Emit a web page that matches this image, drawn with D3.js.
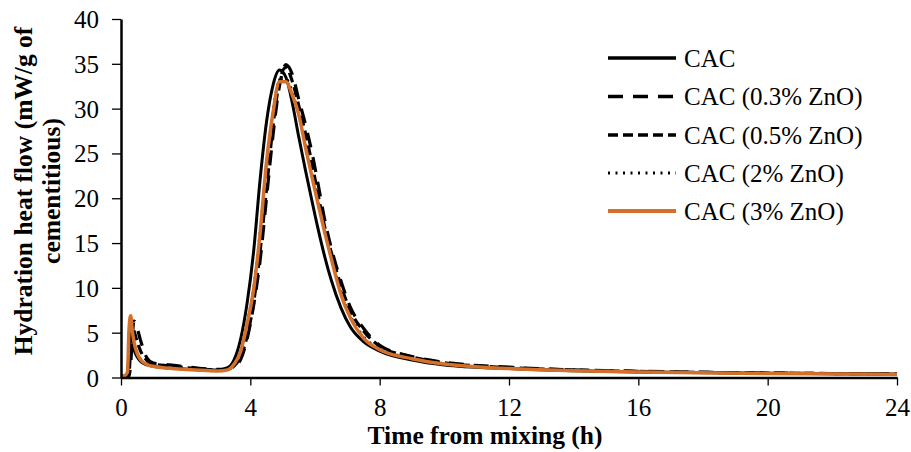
<!DOCTYPE html>
<html><head><meta charset="utf-8">
<script src="https://cdn.jsdelivr.net/npm/d3@7"></script>
<style>
body{margin:0;background:#fff;}
svg{display:block;font-family:"Liberation Serif","Times New Roman",serif;}
</style></head>
<body>
<svg id="chart" width="911" height="452"></svg>
<script>
// time (h)
const times = [0,0.1,0.2,0.25,0.3,0.35,0.4,0.5,0.6,0.8,1,1.5,2,2.5,3,3.3,3.5,3.7,3.9,4.1,4.3,4.5,4.7,4.9,5.1,5.3,5.5,5.7,5.9,6.1,6.3,6.5,6.8,7.1,7.5,8,9,10,12,14,16,20,24];
// heat flow (mW/g)
const cac     = [0,0,0.5,3,5,4.2,3.2,2.3,1.8,1.4,1.25,1.05,0.95,0.85,0.85,1.1,2.0,4.3,8.3,14,22,28.5,32.6,34.3,33.5,30.6,26.8,23.2,19.8,16.5,13.5,10.9,7.8,5.6,4.0,2.95,1.95,1.4,1.0,0.75,0.62,0.48,0.38];
const zno03   = [0,0,0,0.2,1.5,4.5,6.3,5.5,4.2,2.2,1.6,1.4,1.2,1.0,0.9,0.95,1.2,2.0,4.3,8,13,20,27,32.5,34.9,33.8,31,28.3,25.2,21.5,17.6,14.5,10.8,7.8,5.5,3.6,2.35,1.7,1.15,0.85,0.7,0.5,0.4];
const zno05   = [0,0,0.1,0.5,3.5,5.6,5.2,4.0,3.0,1.9,1.5,1.3,1.1,0.95,0.85,0.9,1.3,2.3,4.6,8.3,14,21,28,33,34.6,33,30.3,27.3,24,20.3,16.8,14,10.3,7.4,5.2,3.5,2.3,1.65,1.1,0.85,0.68,0.5,0.4];
const zno2    = [0,0,0.3,3.5,6.2,5.0,3.9,2.8,2.1,1.5,1.3,1.1,0.95,0.85,0.78,0.9,1.6,3.0,6.2,10,16.3,24,29.8,33.2,33.4,31.8,29.3,26,22.8,19.7,16.3,13.5,9.6,6.9,4.6,3.2,2.2,1.55,1.05,0.78,0.62,0.47,0.37];
const zno3    = [0.2,0.2,0.6,5.5,6.9,5.2,4.0,2.7,2.0,1.45,1.25,1.03,0.9,0.8,0.72,0.85,1.5,2.9,6.0,9.8,16,24,29.5,33,33,31.5,29.3,25.8,22.5,19.3,16.2,13.3,9.3,6.6,4.4,3.1,2.1,1.5,1.0,0.75,0.6,0.45,0.35];

const seriesNames = ["CAC","CAC (0.3% ZnO)","CAC (0.5% ZnO)","CAC (2% ZnO)","CAC (3% ZnO)"];
const xTicks = [0,4,8,12,16,20,24];
const yTicks = [0,5,10,15,20,25,30,35,40];

const styles = [
  {color:"#000", width:3, dash:null},
  {color:"#000", width:3.2, dash:"15,10"},
  {color:"#000", width:3.2, dash:"10,5"},
  {color:"#000", width:2.5, dash:"2,5.5"},
  {color:"#D4702A", width:3.5, dash:null}
];
const data = [cac, zno03, zno05, zno2, zno3];

const svg = d3.select("#chart");
const x = d3.scaleLinear().domain([0,24]).range([121,897]);
const y = d3.scaleLinear().domain([0,40]).range([377.5,19]);

// lines
const line = d3.line().x(d=>x(d[0])).y(d=>y(d[1])).curve(d3.curveMonotoneX);
data.forEach((vals,i)=>{
  const pts = times.map((t,j)=>[t,vals[j]]);
  svg.append("path").datum(pts).attr("d",line)
    .attr("fill","none").attr("stroke",styles[i].color)
    .attr("stroke-width",styles[i].width)
    .attr("stroke-dasharray",styles[i].dash)
    .attr("stroke-linejoin","round");
});

// axes
const xAxis = svg.append("g").attr("transform","translate(0,377.5)")
  .call(d3.axisBottom(x).tickValues(xTicks).tickSize(8).tickSizeOuter(0).tickPadding(13));
const yAxis = svg.append("g").attr("transform","translate(121,0)")
  .call(d3.axisLeft(y).tickValues(yTicks).tickSize(9).tickSizeOuter(0).tickPadding(13));
[xAxis,yAxis].forEach(g=>{
  g.select(".domain").attr("stroke","#000").attr("stroke-width",2.5);
  g.selectAll(".tick line").attr("stroke","#000").attr("stroke-width",1.3);
  g.selectAll(".tick text").attr("font-family","Liberation Serif, serif").attr("font-size",25).attr("fill","#000");
});
yAxis.selectAll(".tick text").attr("dy","0.34em");

// axis titles
svg.append("text").attr("x",485).attr("y",444).attr("text-anchor","middle")
  .attr("font-weight","bold").attr("font-size",25.5).text("Time from mixing (h)");
const yt = svg.append("text").attr("transform","translate(32,191) rotate(-90)")
  .attr("text-anchor","middle").attr("font-weight","bold").attr("font-size",25.5);
yt.append("tspan").attr("x",0).attr("y",0).text("Hydration heat flow (mW/g of");
yt.append("tspan").attr("x",0).attr("y",28).text("cementitious)");

// legend
const rowY = [58, 96.5, 135, 173, 211];
seriesNames.forEach((n,i)=>{
  svg.append("line").attr("x1",608).attr("x2",676).attr("y1",rowY[i]).attr("y2",rowY[i])
    .attr("stroke",styles[i].color).attr("stroke-width",styles[i].width+0.3)
    .attr("stroke-dasharray",styles[i].dash);
  svg.append("text").attr("x",684).attr("y",rowY[i]).attr("dy","0.35em")
    .attr("font-size",25).text(n);
});
</script>
</body></html>
